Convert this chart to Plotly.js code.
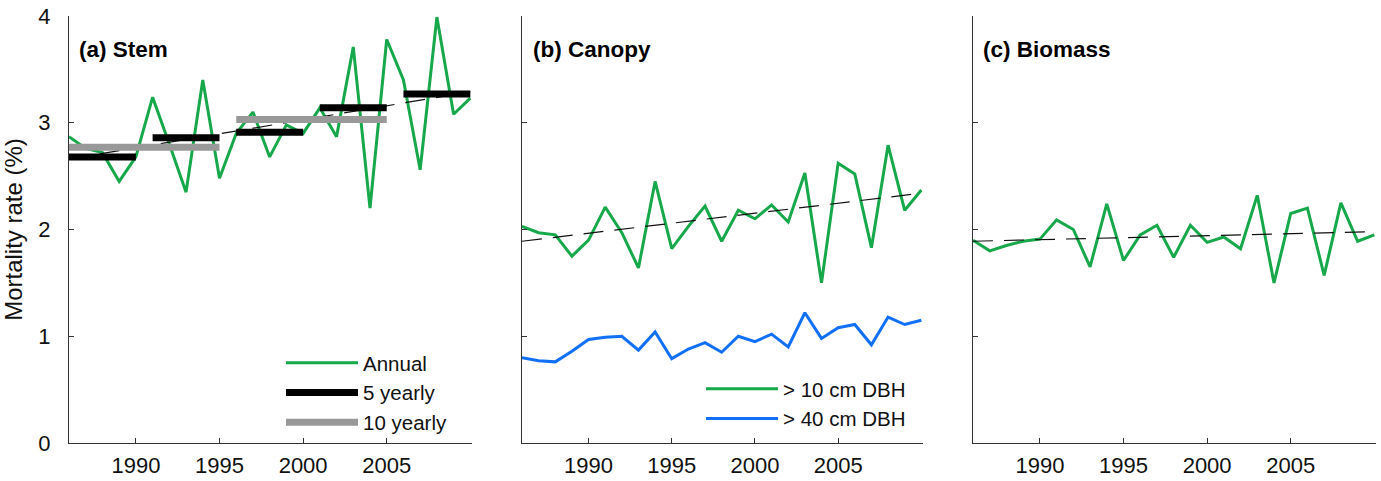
<!DOCTYPE html>
<html>
<head>
<meta charset="utf-8">
<script src="https://cdn.plot.ly/plotly-3.0.1.min.js"></script>
<style>html,body{margin:0;padding:0;background:#fff;}#chart{width:1381px;height:481px;}</style>
</head>
<body>
<div id="chart"></div>
<script>
// ---- data ----
const years = [1986,1987,1988,1989,1990,1991,1992,1993,1994,1995,1996,1997,1998,1999,2000,2001,2002,2003,2004,2005,2006,2007,2008,2009,2010];

// (a) Stem
const stemAnnual = [2.87,2.76,2.72,2.45,2.68,3.24,2.80,2.35,3.40,2.48,2.90,3.10,2.68,2.98,2.90,3.14,2.87,3.71,2.20,3.78,3.40,2.56,3.99,3.08,3.23];
const fiveStart = [1986,1991,1996,2001,2006];
const fiveEnd   = [1990,1995,2000,2005,2010];
const fiveVal   = [2.68,2.86,2.91,3.14,3.27];
const tenStart = [1986,1996];
const tenEnd   = [1995,2005];
const tenVal   = [2.77,3.03];

// (b) Canopy
const canopy10 = [2.03,1.97,1.95,1.75,1.90,2.21,1.97,1.64,2.45,1.82,2.03,2.22,1.89,2.18,2.10,2.23,2.07,2.53,1.50,2.62,2.52,1.83,2.79,2.18,2.37];
const canopy40 = [0.80,0.77,0.76,0.86,0.97,0.99,1.00,0.87,1.04,0.79,0.88,0.94,0.85,1.00,0.95,1.02,0.90,1.22,0.98,1.08,1.11,0.92,1.18,1.11,1.15];

// (c) Biomass
const biomass = [1.90,1.80,1.85,1.89,1.91,2.09,2.00,1.65,2.24,1.71,1.95,2.04,1.74,2.04,1.88,1.93,1.82,2.32,1.50,2.15,2.20,1.57,2.25,1.89,1.95];

// linear trends (end points)
const trendYears = [1986, 2010];
const trendStem = [2.66, 3.29];
const trendCanopy = [1.89, 2.34];
const trendBiomass = [1.89, 1.98];

// tick labels
const xTicks = [1990, 1995, 2000, 2005];
const yTicks = [0, 1, 2, 3, 4];

const panelLabels = ['(a) Stem', '(b) Canopy', '(c) Biomass'];
const legendA = ['Annual', '5 yearly', '10 yearly'];
const legendB = ['> 10 cm DBH', '> 40 cm DBH'];

// ---- styling ----
const GREEN = '#16a84a';
const BLUE = '#1170f7';
const FONT = 'Liberation Sans, Arial, Helvetica, sans-serif';

function segs(starts, ends, vals) {
  const x = [], y = [];
  for (let i = 0; i < starts.length; i++) {
    x.push(starts[i], ends[i], null);
    y.push(vals[i], vals[i], null);
  }
  return {x, y};
}
const five = segs(fiveStart, fiveEnd, fiveVal);
const ten = segs(tenStart, tenEnd, tenVal);

const trendStyle = {color: '#111', width: 1.2, dash: '20px,11px'};

const traces = [
  {x: years, y: stemAnnual, xaxis: 'x', yaxis: 'y', mode: 'lines', name: legendA[0],
   line: {color: GREEN, width: 3}, legend: 'legend', legendrank: 1},
  {x: trendYears, y: trendStem, xaxis: 'x', yaxis: 'y', mode: 'lines', showlegend: false,
   line: trendStyle},
  {x: ten.x, y: ten.y, xaxis: 'x', yaxis: 'y', mode: 'lines', name: legendA[2],
   line: {color: '#999999', width: 7}, legend: 'legend', legendrank: 3},
  {x: five.x, y: five.y, xaxis: 'x', yaxis: 'y', mode: 'lines', name: legendA[1],
   line: {color: '#000000', width: 7}, legend: 'legend', legendrank: 2},

  {x: years, y: canopy40, xaxis: 'x2', yaxis: 'y2', mode: 'lines', name: legendB[1],
   line: {color: BLUE, width: 3}, legend: 'legend2', legendrank: 2},
  {x: years, y: canopy10, xaxis: 'x2', yaxis: 'y2', mode: 'lines', name: legendB[0],
   line: {color: GREEN, width: 3}, legend: 'legend2', legendrank: 1},
  {x: trendYears, y: trendCanopy, xaxis: 'x2', yaxis: 'y2', mode: 'lines', showlegend: false,
   line: trendStyle},

  {x: years, y: biomass, xaxis: 'x3', yaxis: 'y3', mode: 'lines', showlegend: false,
   line: {color: GREEN, width: 3}},
  {x: trendYears, y: trendBiomass, xaxis: 'x3', yaxis: 'y3', mode: 'lines', showlegend: false,
   line: trendStyle}
];

const W = 1381, H = 481;
const mL = 69, mR = 3, mT = 16, mB = 38;
const pw = W - mL - mR, ph = H - mT - mB;
const px = v => (v - mL) / pw;
const py = v => (H - mB - v) / ph;

function xax(domain, anchor) {
  return {
    domain: domain, anchor: anchor, range: [1986, 2010.1],
    tickvals: xTicks, ticktext: xTicks.map(String),
    ticks: 'inside', ticklen: 5, tickwidth: 1, tickcolor: '#333',
    showline: true, linecolor: '#333', linewidth: 1, mirror: false,
    showgrid: false, zeroline: false,
    tickfont: {family: FONT, size: 22, color: '#111'},
    ticklabelstandoff: 3, fixedrange: true
  };
}
function yax(anchor, labels) {
  return {
    anchor: anchor, domain: [0, 1], range: [0, 4],
    tickvals: yTicks, ticktext: yTicks.map(String),
    ticks: 'inside', ticklen: 5, tickwidth: 1, tickcolor: '#333',
    showline: true, linecolor: '#333', linewidth: 1,
    showgrid: false, zeroline: false, showticklabels: labels,
    tickfont: {family: FONT, size: 22, color: '#111'},
    ticklabelstandoff: 13, fixedrange: true
  };
}

const layout = {
  width: W, height: H,
  margin: {l: mL, r: mR, t: mT, b: mB, pad: 0},
  paper_bgcolor: '#ffffff', plot_bgcolor: '#ffffff',
  font: {family: FONT, color: '#111'},
  xaxis: xax([0, px(472)], 'y'),
  xaxis2: xax([px(522), px(923)], 'y2'),
  xaxis3: xax([px(973), px(1376)], 'y3'),
  yaxis: Object.assign(yax('x', true), {
    title: {text: 'Mortality rate (%)', font: {family: FONT, size: 24, color: '#111'}, standoff: 8}
  }),
  yaxis2: yax('x2', false),
  yaxis3: yax('x3', false),
  legend: {
    x: px(281), y: py(343), xanchor: 'left', yanchor: 'top',
    bgcolor: 'rgba(0,0,0,0)', borderwidth: 0,
    font: {family: FONT, size: 20.5, color: '#111'},
    itemwidth: 72, tracegroupgap: 0, traceorder: 'normal'
  },
  legend2: {
    x: px(701), y: py(369), xanchor: 'left', yanchor: 'top',
    bgcolor: 'rgba(0,0,0,0)', borderwidth: 0,
    font: {family: FONT, size: 20.5, color: '#111'},
    itemwidth: 72, tracegroupgap: 0, traceorder: 'normal'
  },
  annotations: [
    {text: '<b>' + panelLabels[0] + '</b>', x: px(77), y: py(50)},
    {text: '<b>' + panelLabels[1] + '</b>', x: px(531), y: py(50)},
    {text: '<b>' + panelLabels[2] + '</b>', x: px(981), y: py(50)}
  ].map(a => Object.assign(a, {xref: 'paper', yref: 'paper', xanchor: 'left', yanchor: 'middle',
      showarrow: false, font: {family: FONT, size: 22.5, color: '#000'}})),
  showlegend: true
};

Plotly.newPlot('chart', traces, layout, {staticPlot: true, displayModeBar: false});
</script>
</body>
</html>
